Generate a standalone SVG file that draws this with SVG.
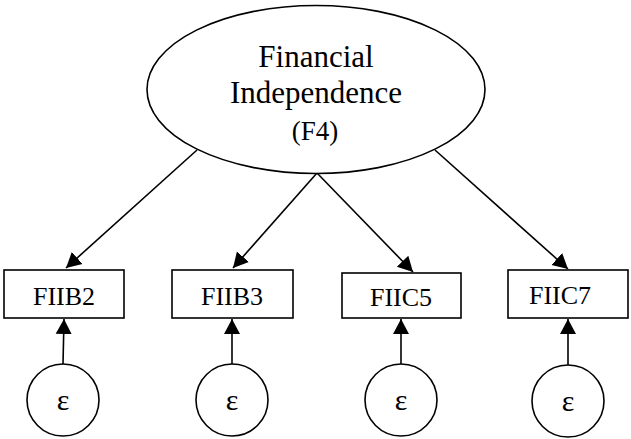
<svg xmlns="http://www.w3.org/2000/svg" width="631" height="439" viewBox="0 0 631 439">
<style>
.shape{fill:#fff;stroke:#000;stroke-width:1.6}
.edge{stroke:#000;stroke-width:1.6;fill:none}
text{font-family:"Liberation Serif","Times New Roman",serif;fill:#000;text-anchor:middle}
.big{font-size:31px}
.mid{font-size:27px}
.lbl{font-size:26px}
.eps{font-size:30px}
</style>
<defs>
<marker id="ah" markerUnits="userSpaceOnUse" markerWidth="16" markerHeight="18" refX="15" refY="8" orient="auto" viewBox="0 0 16 16">
<path d="M0,0 L15,8 L0,16 Z" fill="#000"/>
</marker>
</defs>
<g id="connectors">
<line class="edge" x1="197" y1="150" x2="66" y2="268" marker-end="url(#ah)"/>
<line class="edge" x1="317" y1="173" x2="233" y2="268" marker-end="url(#ah)"/>
<line class="edge" x1="317" y1="173" x2="413" y2="272" marker-end="url(#ah)"/>
<line class="edge" x1="435" y1="150" x2="568" y2="269" marker-end="url(#ah)"/>
<line class="edge" x1="63" y1="364" x2="64" y2="319" marker-end="url(#ah)"/>
<line class="edge" x1="232" y1="364" x2="232" y2="319" marker-end="url(#ah)"/>
<line class="edge" x1="401" y1="364" x2="401" y2="319" marker-end="url(#ah)"/>
<line class="edge" x1="568" y1="365" x2="568" y2="319" marker-end="url(#ah)"/>
</g>
<g id="F4">
<ellipse class="shape" cx="316" cy="89.5" rx="169" ry="84"/>
<text class="big" x="316" y="67">Financial</text>
<text class="big" x="316" y="103">Independence</text>
<text class="mid" x="315" y="140">(F4)</text>
</g>
<g id="FIIB2">
<rect class="shape" x="4" y="270" width="120" height="48"/>
<text class="lbl" x="64" y="305">FIIB2</text>
</g>
<g id="FIIB3">
<rect class="shape" x="172" y="270" width="121" height="48"/>
<text class="lbl" x="232" y="305">FIIB3</text>
</g>
<g id="FIIC5">
<rect class="shape" x="342" y="273" width="119" height="45"/>
<text class="lbl" x="401" y="306">FIIC5</text>
</g>
<g id="FIIC7">
<rect class="shape" x="508" y="270" width="120" height="48"/>
<text class="lbl" x="560" y="304">FIIC7</text>
</g>
<g id="e1">
<circle class="shape" cx="63" cy="400" r="36"/>
<text class="eps" x="63" y="410">ε</text>
</g>
<g id="e2">
<circle class="shape" cx="232" cy="400" r="36"/>
<text class="eps" x="232" y="410">ε</text>
</g>
<g id="e3">
<circle class="shape" cx="401" cy="400" r="36"/>
<text class="eps" x="401" y="410">ε</text>
</g>
<g id="e4">
<circle class="shape" cx="568" cy="401" r="36"/>
<text class="eps" x="568" y="411">ε</text>
</g>
</svg>
